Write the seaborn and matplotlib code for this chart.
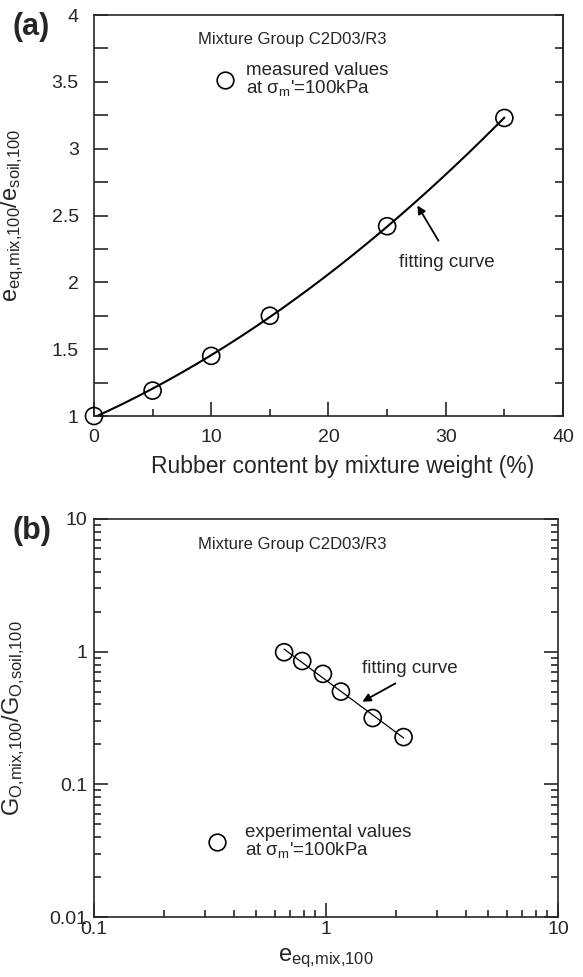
import numpy as np
import pandas as pd
import matplotlib
matplotlib.use("Agg")
import matplotlib.pyplot as plt
import seaborn as sns
from matplotlib.ticker import MultipleLocator, FixedLocator, FuncFormatter, NullFormatter

# Panel (a): void ratio ratio vs rubber content
rubber_pct = [0, 5, 10, 15, 25, 35]
e_ratio = [1.0, 1.19, 1.45, 1.75, 2.42, 3.23]

# Panel (b): shear modulus ratio vs equivalent void ratio
e_eq = [0.66, 0.79, 0.97, 1.16, 1.59, 2.16]
g_ratio = [0.99, 0.85, 0.68, 0.50, 0.316, 0.227]

sns.set_style("ticks")
plt.rcParams["font.family"] = ["Liberation Sans", "DejaVu Sans"]
plt.rcParams["mathtext.fontset"] = "custom"
plt.rcParams["mathtext.rm"] = "Liberation Sans"
plt.rcParams["mathtext.it"] = "Liberation Sans"
plt.rcParams["axes.linewidth"] = 1.2

fig = plt.figure(figsize=(5.83, 9.77), dpi=100)
ax1 = fig.add_axes([0.1612, 0.5742, 0.8045, 0.4104])
ax2 = fig.add_axes([0.1612, 0.0614, 0.7959, 0.4074])

df_a = pd.DataFrame({"x": rubber_pct, "y": e_ratio})
df_b = pd.DataFrame({"x": e_eq, "y": g_ratio})

# fitting curves from the measured values
coef = np.polyfit(df_a["x"], df_a["y"], 2)
xa = np.linspace(min(rubber_pct), max(rubber_pct), 200)
fit_a = pd.DataFrame({"x": xa, "y": np.polyval(coef, xa)})

cb = np.polyfit(np.log10(df_b["x"]), np.log10(df_b["y"]), 1)
xb = np.logspace(np.log10(min(e_eq)), np.log10(max(e_eq)), 50)
fit_b = pd.DataFrame({"x": xb, "y": 10 ** np.polyval(cb, np.log10(xb))})

mk = dict(marker="o", s=150, facecolor="none", edgecolor="black", linewidth=1.2,
          zorder=3, clip_on=False)
fmt = FuncFormatter(lambda v, p: "%g" % v)

# ---- panel (a)
sns.lineplot(data=fit_a, x="x", y="y", ax=ax1, color="black", lw=1.5)
sns.scatterplot(data=df_a, x="x", y="y", ax=ax1, **mk)
ax1.set_xlim(0, 40)
ax1.set_ylim(1, 4)
ax1.xaxis.set_major_locator(MultipleLocator(10))
ax1.xaxis.set_minor_locator(MultipleLocator(5))
ax1.yaxis.set_major_locator(MultipleLocator(0.5))
ax1.yaxis.set_minor_locator(MultipleLocator(0.25))
ax1.yaxis.set_major_formatter(fmt)
ax1.tick_params(axis="both", which="major", direction="in", length=10, width=1.2,
                labelsize=14, top=False, right=False)
ax1.tick_params(axis="x", which="major", pad=9.5)
ax1.tick_params(axis="y", which="major", pad=11)
ax1.tick_params(axis="x", which="minor", direction="in", length=5, width=1.2, top=False)
ax1.tick_params(axis="y", which="minor", direction="in", length=10, width=1.2, right=False)
sec = ax1.secondary_yaxis("right")
sec.yaxis.set_major_locator(MultipleLocator(0.25))
sec.yaxis.set_major_formatter(NullFormatter())
sec.tick_params(direction="in", length=6, width=1.2)
ax1.set_xlabel("Rubber content by mixture weight (%)", fontsize=16.5, va="top")
ax1.xaxis.set_label_coords(0.531, -0.097)
ax1.set_ylabel(r"$\mathregular{e_{eq{,}mix{,}100}/e_{soil{,}100}}$", fontsize=17)
ax1.yaxis.set_label_coords(-0.145, 0.5)

ax1.text(0.422, 0.938, "Mixture Group C2D03/R3", transform=ax1.transAxes,
         ha="center", va="center", fontsize=12)
ax1.plot([0.279], [0.838], "o", ms=12, mfc="none", mec="black", mew=1.2,
         transform=ax1.transAxes)
ax1.text(0.324, 0.838, "measured values\nat σ$_{\\rm m}$'=100kPa", transform=ax1.transAxes,
         ha="left", va="center", fontsize=13.5, linespacing=0.95)
ax1.annotate("", xy=(27.46, 2.593), xytext=(29.5, 2.294),
             arrowprops=dict(arrowstyle="-|>", color="black", lw=1.3, mutation_scale=12))
ax1.text(30.1, 2.152, "fitting curve", ha="center", va="center", fontsize=13.5)

# ---- panel (b)
sns.lineplot(data=fit_b, x="x", y="y", ax=ax2, color="black", lw=0.9)
sns.scatterplot(data=df_b, x="x", y="y", ax=ax2, **mk)
ax2.set_xscale("log")
ax2.set_yscale("log")
ax2.set_xlim(0.1, 10)
ax2.set_ylim(0.01, 10)
ax2.xaxis.set_major_locator(FixedLocator([0.1, 1, 10]))
ax2.yaxis.set_major_locator(FixedLocator([0.01, 0.1, 1, 10]))
ax2.xaxis.set_major_formatter(fmt)
ax2.yaxis.set_major_formatter(fmt)
ax2.xaxis.set_minor_formatter(NullFormatter())
ax2.yaxis.set_minor_formatter(NullFormatter())
ax2.tick_params(axis="both", which="major", direction="in", length=10, width=1.2,
                labelsize=14, top=False, right=True)
ax2.tick_params(axis="x", which="major", pad=3)
ax2.tick_params(axis="y", which="major", pad=5)
ax2.tick_params(axis="both", which="minor", direction="in", length=5, width=1.2,
                top=False, right=True)
ax2.set_xlabel(r"$\mathregular{e_{eq{,}mix{,}100}}$", fontsize=17, labelpad=6)
ax2.set_ylabel(r"$\mathregular{G_{O{,}mix{,}100}/G_{O{,}soil{,}100}}$", fontsize=17)
ax2.yaxis.set_label_coords(-0.145, 0.5)

ax2.text(0.427, 0.937, "Mixture Group C2D03/R3", transform=ax2.transAxes,
         ha="center", va="center", fontsize=12)
ax2.plot([0.265], [0.188], "o", ms=12, mfc="none", mec="black", mew=1.2,
         transform=ax2.transAxes)
ax2.text(0.325, 0.188, "experimental values\nat σ$_{\\rm m}$'=100kPa", transform=ax2.transAxes,
         ha="left", va="center", fontsize=13.5, linespacing=0.95)
ax2.annotate("", xy=(1.40, 0.41), xytext=(2.04, 0.59),
             arrowprops=dict(arrowstyle="-|>", color="black", lw=1.3, mutation_scale=12))
ax2.text(2.30, 0.752, "fitting curve", ha="center", va="center", fontsize=13.5)

fig.text(0.054, 0.972, "(a)", fontsize=22, fontweight="bold", ha="center", va="center")
fig.text(0.054, 0.457, "(b)", fontsize=22, fontweight="bold", ha="center", va="center")

fig.savefig("out.png", dpi=100)
